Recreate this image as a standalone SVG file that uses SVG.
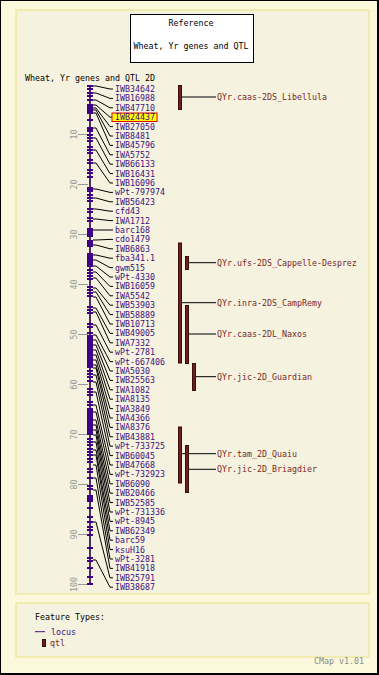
<svg xmlns="http://www.w3.org/2000/svg" width="379" height="675" viewBox="0 0 379 675">
<style>
text{font-family:"DejaVu Sans Mono","Liberation Mono",monospace;font-size:8.3px}
.t{fill:#000}
.l{fill:#3f0f80}
.q{fill:#7a2626}
.s{fill:#999}
.tk{fill:#400085}
.sc{stroke:#999;stroke-width:1}
.qb{fill:#6e1f1f;stroke:#3a0c0c;stroke-width:1}
.c{fill:none;stroke:#000;stroke-width:1}
</style>
<rect x="0" y="0" width="379" height="675" fill="#000"/>
<rect x="1" y="1" width="376" height="672" fill="#fbf8dc"/>
<rect x="16" y="10" width="353" height="584" fill="#f5f3df" stroke="#eee8a2" stroke-width="1.5"/>
<rect x="16" y="603" width="353" height="54" fill="#f5f3df" stroke="#eee8a2" stroke-width="1.5"/>

<g id="title">
<rect x="130.5" y="14.5" width="123" height="48" fill="#fff" stroke="#000"/>
<text class="t" x="191" y="25.7" text-anchor="middle">Reference</text>
<text class="t" x="191" y="49" text-anchor="middle">Wheat, Yr genes and QTL</text>
</g>
<text class="t" x="25" y="80.7">Wheat, Yr genes and QTL 2D</text>

<g id="scale">
<line class="sc" x1="78" y1="134.5" x2="88" y2="134.5"/><text class="s" transform="translate(76.5,134.5) rotate(-90)" text-anchor="middle">10</text>
<line class="sc" x1="78" y1="184.5" x2="88" y2="184.5"/><text class="s" transform="translate(76.5,184.5) rotate(-90)" text-anchor="middle">20</text>
<line class="sc" x1="78" y1="234.5" x2="88" y2="234.5"/><text class="s" transform="translate(76.5,234.5) rotate(-90)" text-anchor="middle">30</text>
<line class="sc" x1="78" y1="284.5" x2="88" y2="284.5"/><text class="s" transform="translate(76.5,284.5) rotate(-90)" text-anchor="middle">40</text>
<line class="sc" x1="78" y1="334.5" x2="88" y2="334.5"/><text class="s" transform="translate(76.5,334.5) rotate(-90)" text-anchor="middle">50</text>
<line class="sc" x1="78" y1="384.5" x2="88" y2="384.5"/><text class="s" transform="translate(76.5,384.5) rotate(-90)" text-anchor="middle">60</text>
<line class="sc" x1="78" y1="434.5" x2="88" y2="434.5"/><text class="s" transform="translate(76.5,434.5) rotate(-90)" text-anchor="middle">70</text>
<line class="sc" x1="78" y1="484.5" x2="88" y2="484.5"/><text class="s" transform="translate(76.5,484.5) rotate(-90)" text-anchor="middle">80</text>
<line class="sc" x1="78" y1="534.5" x2="88" y2="534.5"/><text class="s" transform="translate(76.5,534.5) rotate(-90)" text-anchor="middle">90</text>
<line class="sc" x1="78" y1="584.5" x2="88" y2="584.5"/><text class="s" transform="translate(76.5,584.5) rotate(-90)" text-anchor="middle">100</text>
</g>

<g id="chromosome">
<line x1="90" y1="85" x2="90" y2="585" stroke="#20003a" stroke-width="1.6"/>
<rect class="tk" x="87" y="104" width="6" height="10"/>
<rect class="tk" x="87" y="127" width="6" height="5"/>
<rect class="tk" x="87" y="187" width="6" height="5"/>
<rect class="tk" x="87" y="228" width="6" height="9"/>
<rect class="tk" x="87" y="240" width="6" height="7"/>
<rect class="tk" x="87" y="253" width="6" height="14"/>
<rect class="tk" x="87" y="335" width="6" height="33"/>
<rect class="tk" x="87" y="408" width="6" height="27"/>
<rect class="tk" x="87" y="495" width="6" height="7"/>
<g class="tk">
<rect x="87" y="85" width="6" height="2"/><rect x="87" y="88" width="6" height="2"/><rect x="87" y="92" width="6" height="2"/><rect x="87" y="95" width="6" height="2"/><rect x="87" y="99" width="6" height="2"/>
<rect x="87" y="119" width="6" height="2"/><rect x="87" y="134" width="6" height="2"/><rect x="87" y="137" width="6" height="2"/><rect x="87" y="140" width="6" height="2"/><rect x="87" y="146" width="6" height="2"/><rect x="87" y="149" width="6" height="2"/><rect x="87" y="152" width="6" height="2"/><rect x="87" y="159" width="6" height="2"/><rect x="87" y="162" width="6" height="2"/><rect x="87" y="169" width="6" height="2"/><rect x="87" y="172" width="6" height="2"/><rect x="87" y="176" width="6" height="2"/>
<rect x="87" y="194" width="6" height="2"/><rect x="87" y="197" width="6" height="2"/><rect x="87" y="200" width="6" height="2"/><rect x="87" y="208" width="6" height="2"/><rect x="87" y="211" width="6" height="2"/><rect x="87" y="217" width="6" height="2"/><rect x="87" y="220" width="6" height="2"/>
<rect x="87" y="269" width="6" height="2"/><rect x="87" y="272" width="6" height="2"/><rect x="87" y="275" width="6" height="2"/><rect x="87" y="278" width="6" height="2"/><rect x="87" y="286" width="6" height="2"/><rect x="87" y="289" width="6" height="2"/><rect x="87" y="292" width="6" height="2"/><rect x="87" y="295" width="6" height="2"/><rect x="87" y="306" width="6" height="2"/><rect x="87" y="309" width="6" height="2"/><rect x="87" y="312" width="6" height="2"/><rect x="87" y="323" width="6" height="2"/><rect x="87" y="326" width="6" height="2"/><rect x="87" y="332" width="6" height="2"/>
<rect x="87" y="370" width="6" height="2"/><rect x="87" y="373" width="6" height="2"/><rect x="87" y="376" width="6" height="2"/><rect x="87" y="380" width="6" height="2"/><rect x="87" y="388" width="6" height="2"/><rect x="87" y="391" width="6" height="2"/><rect x="87" y="394" width="6" height="2"/><rect x="87" y="401" width="6" height="2"/><rect x="87" y="404" width="6" height="2"/>
<rect x="87" y="438" width="6" height="2"/><rect x="87" y="441" width="6" height="2"/><rect x="87" y="444" width="6" height="2"/><rect x="87" y="448" width="6" height="2"/><rect x="87" y="451" width="6" height="2"/><rect x="87" y="454" width="6" height="2"/><rect x="87" y="458" width="6" height="2"/><rect x="87" y="461" width="6" height="2"/><rect x="87" y="468" width="6" height="2"/><rect x="87" y="471" width="6" height="2"/><rect x="87" y="477" width="6" height="2"/><rect x="87" y="485" width="6" height="2"/><rect x="87" y="488" width="6" height="2"/>
<rect x="87" y="507" width="6" height="2"/><rect x="87" y="516" width="6" height="2"/><rect x="87" y="521" width="6" height="2"/><rect x="87" y="526" width="6" height="2"/><rect x="87" y="529" width="6" height="2"/><rect x="87" y="534" width="6" height="2"/><rect x="87" y="547" width="6" height="2"/><rect x="87" y="557" width="6" height="2"/><rect x="87" y="560" width="6" height="2"/><rect x="87" y="567" width="6" height="2"/><rect x="87" y="576" width="6" height="2"/><rect x="87" y="583" width="6" height="2"/>
</g>
</g>

<g id="connectors" class="c">
<polyline points="93,86 96,86 110,89 113,89"/>
<polyline points="93,93 96,93 110,98.4 113,98.4"/>
<polyline points="93,100 96,100 110,107.8 113,107.8"/>
<polyline points="93,105 96,105 110,117.2 112,117.2"/>
<polyline points="93,108 96,108 110,126.6 113,126.6"/>
<polyline points="93,110 96,110 110,136 113,136"/>
<polyline points="93,113 96,113 110,145.4 113,145.4"/>
<polyline points="93,128 96,128 110,154.8 113,154.8"/>
<polyline points="93,138 96,138 110,164.2 113,164.2"/>
<polyline points="93,150 96,150 110,173.6 113,173.6"/>
<polyline points="93,163 96,163 110,183 113,183"/>
<polyline points="93,189 96,189 110,192.4 113,192.4"/>
<polyline points="93,198 96,198 110,201.8 113,201.8"/>
<polyline points="93,209 96,209 110,211.2 113,211.2"/>
<polyline points="93,219 96,219 110,220.6 113,220.6"/>
<polyline points="93,230 96,230 110,230 113,230"/>
<polyline points="93,240 96,240 110,239.4 113,239.4"/>
<polyline points="93,245 96,245 110,248.8 113,248.8"/>
<polyline points="93,255 96,255 110,258.2 113,258.2"/>
<polyline points="93,260 96,260 110,267.6 113,267.6"/>
<polyline points="93,266 96,266 110,277 113,277"/>
<polyline points="93,272 96,272 110,286.4 113,286.4"/>
<polyline points="93,278 96,278 110,295.8 113,295.8"/>
<polyline points="93,288 96,288 110,305.2 113,305.2"/>
<polyline points="93,292 96,292 110,314.6 113,314.6"/>
<polyline points="93,297 96,297 110,324 113,324"/>
<polyline points="93,308 96,308 110,333.4 113,333.4"/>
<polyline points="93,312 96,312 110,342.8 113,342.8"/>
<polyline points="93,325 96,325 110,352.2 113,352.2"/>
<polyline points="93,335 96,335 110,361.6 113,361.6"/>
<polyline points="93,340 96,340 110,371 113,371"/>
<polyline points="93,345 96,345 110,380.4 113,380.4"/>
<polyline points="93,350 96,350 110,389.8 113,389.8"/>
<polyline points="93,355 96,355 110,399.2 113,399.2"/>
<polyline points="93,360 96,360 110,408.6 113,408.6"/>
<polyline points="93,365 96,365 110,418 113,418"/>
<polyline points="93,368 96,368 110,427.4 113,427.4"/>
<polyline points="93,375 96,375 110,436.8 113,436.8"/>
<polyline points="93,382 96,382 110,446.2 113,446.2"/>
<polyline points="93,392 96,392 110,455.6 113,455.6"/>
<polyline points="93,405 96,405 110,465 113,465"/>
<polyline points="93,412 96,412 110,474.4 113,474.4"/>
<polyline points="93,420 96,420 110,483.8 113,483.8"/>
<polyline points="93,425 96,425 110,493.2 113,493.2"/>
<polyline points="93,430 96,430 110,502.6 113,502.6"/>
<polyline points="93,435 96,435 110,512 113,512"/>
<polyline points="93,442 96,442 110,521.4 113,521.4"/>
<polyline points="93,450 96,450 110,530.8 113,530.8"/>
<polyline points="93,455 96,455 110,540.2 113,540.2"/>
<polyline points="93,465 96,465 110,549.6 113,549.6"/>
<polyline points="93,478 96,478 110,559 113,559"/>
<polyline points="93,490 96,490 110,568.4 113,568.4"/>
<polyline points="93,522 96,522 110,577.8 113,577.8"/>
<polyline points="93,560 96,560 110,587.2 113,587.2"/>
<line x1="182" y1="97" x2="216" y2="97"/>
<line x1="189" y1="262.7" x2="216" y2="262.7"/>
<line x1="182" y1="302.7" x2="216" y2="302.7"/>
<line x1="189" y1="334" x2="216" y2="334"/>
<line x1="196" y1="376.7" x2="216" y2="376.7"/>
<line x1="182" y1="453.7" x2="216" y2="453.7"/>
<line x1="189" y1="469.3" x2="216" y2="469.3"/>
</g>

<g id="loci" class="l">
<g id="n-IWB34642"><text x="115" y="92">IWB34642</text></g>
<g id="n-IWB16988"><text x="115" y="101.4">IWB16988</text></g>
<g id="n-IWB47710"><text x="115" y="110.8">IWB47710</text></g>
<g id="n-IWB24437"><rect x="112" y="113" width="45" height="8.5" fill="#ffff00" stroke="#e00000" stroke-width="1"/><text x="115" y="120.2">IWB24437</text></g>
<g id="n-IWB27050"><text x="115" y="129.6">IWB27050</text></g>
<g id="n-IWB8481"><text x="115" y="139">IWB8481</text></g>
<g id="n-IWB45796"><text x="115" y="148.4">IWB45796</text></g>
<g id="n-IWA5752"><text x="115" y="157.8">IWA5752</text></g>
<g id="n-IWB66133"><text x="115" y="167.2">IWB66133</text></g>
<g id="n-IWB16431"><text x="115" y="176.6">IWB16431</text></g>
<g id="n-IWB16096"><text x="115" y="186">IWB16096</text></g>
<g id="n-wPt-797974"><text x="115" y="195.4">wPt-797974</text></g>
<g id="n-IWB56423"><text x="115" y="204.8">IWB56423</text></g>
<g id="n-cfd43"><text x="115" y="214.2">cfd43</text></g>
<g id="n-IWA1712"><text x="115" y="223.6">IWA1712</text></g>
<g id="n-barc168"><text x="115" y="233">barc168</text></g>
<g id="n-cdo1479"><text x="115" y="242.4">cdo1479</text></g>
<g id="n-IWB6863"><text x="115" y="251.8">IWB6863</text></g>
<g id="n-fba341.1"><text x="115" y="261.2">fba341.1</text></g>
<g id="n-gwm515"><text x="115" y="270.6">gwm515</text></g>
<g id="n-wPt-4330"><text x="115" y="280">wPt-4330</text></g>
<g id="n-IWB16059"><text x="115" y="289.4">IWB16059</text></g>
<g id="n-IWA5542"><text x="115" y="298.8">IWA5542</text></g>
<g id="n-IWB53903"><text x="115" y="308.2">IWB53903</text></g>
<g id="n-IWB58889"><text x="115" y="317.6">IWB58889</text></g>
<g id="n-IWB10713"><text x="115" y="327">IWB10713</text></g>
<g id="n-IWB49005"><text x="115" y="336.4">IWB49005</text></g>
<g id="n-IWA7332"><text x="115" y="345.8">IWA7332</text></g>
<g id="n-wPt-2781"><text x="115" y="355.2">wPt-2781</text></g>
<g id="n-wPt-667406"><text x="115" y="364.6">wPt-667406</text></g>
<g id="n-IWA5030"><text x="115" y="374">IWA5030</text></g>
<g id="n-IWB25563"><text x="115" y="383.4">IWB25563</text></g>
<g id="n-IWA1082"><text x="115" y="392.8">IWA1082</text></g>
<g id="n-IWA8135"><text x="115" y="402.2">IWA8135</text></g>
<g id="n-IWA3849"><text x="115" y="411.6">IWA3849</text></g>
<g id="n-IWA4366"><text x="115" y="421">IWA4366</text></g>
<g id="n-IWA8376"><text x="115" y="430.4">IWA8376</text></g>
<g id="n-IWB43881"><text x="115" y="439.8">IWB43881</text></g>
<g id="n-wPt-733725"><text x="115" y="449.2">wPt-733725</text></g>
<g id="n-IWB60045"><text x="115" y="458.6">IWB60045</text></g>
<g id="n-IWB47668"><text x="115" y="468">IWB47668</text></g>
<g id="n-wPt-732923"><text x="115" y="477.4">wPt-732923</text></g>
<g id="n-IWB6090"><text x="115" y="486.8">IWB6090</text></g>
<g id="n-IWB20466"><text x="115" y="496.2">IWB20466</text></g>
<g id="n-IWB52585"><text x="115" y="505.6">IWB52585</text></g>
<g id="n-wPt-731336"><text x="115" y="515">wPt-731336</text></g>
<g id="n-wPt-8945"><text x="115" y="524.4">wPt-8945</text></g>
<g id="n-IWB62349"><text x="115" y="533.8">IWB62349</text></g>
<g id="n-barc59"><text x="115" y="543.2">barc59</text></g>
<g id="n-ksuH16"><text x="115" y="552.6">ksuH16</text></g>
<g id="n-wPt-3281"><text x="115" y="562">wPt-3281</text></g>
<g id="n-IWB41918"><text x="115" y="571.4">IWB41918</text></g>
<g id="n-IWB25791"><text x="115" y="580.8">IWB25791</text></g>
<g id="n-IWB38687"><text x="115" y="590.2">IWB38687</text></g>
</g>

<g id="qtls">
<g id="q-Libellula"><rect class="qb" x="178.5" y="85.5" width="3" height="24"/><text class="q" x="217" y="100">QYr.caas-2DS_Libellula</text></g>
<g id="q-CampRemy"><rect class="qb" x="178.5" y="243" width="3" height="120"/><text class="q" x="217" y="305.7">QYr.inra-2DS_CampRemy</text></g>
<g id="q-Cappelle"><rect class="qb" x="185.5" y="256.5" width="3" height="13"/><text class="q" x="217" y="265.7">QYr.ufs-2DS_Cappelle-Desprez</text></g>
<g id="q-Naxos"><rect class="qb" x="185.5" y="305.5" width="3" height="58"/><text class="q" x="217" y="337">QYr.caas-2DL_Naxos</text></g>
<g id="q-Guardian"><rect class="qb" x="192.5" y="363.5" width="3" height="27"/><text class="q" x="217" y="379.7">QYr.jic-2D_Guardian</text></g>
<g id="q-Quaiu"><rect class="qb" x="178.5" y="427" width="3" height="56"/><text class="q" x="217" y="456.7">QYr.tam_2D_Quaiu</text></g>
<g id="q-Briagdier"><rect class="qb" x="185.5" y="445.5" width="3" height="47"/><text class="q" x="217" y="472.3">QYr.jic-2D_Briagdier</text></g>
</g>

<g id="legend">
<text class="t" x="35" y="620">Feature Types:</text>
<line x1="35" y1="631.7" x2="45" y2="631.7" stroke="#3f0f80" stroke-width="1"/>
<text class="l" x="51" y="634.7">locus</text>
<rect class="qb" x="42.5" y="639.5" width="3" height="7"/>
<text class="q" x="50" y="646.3">qtl</text>
</g>
<text x="314" y="664" fill="#8a8a8a">CMap v1.01</text>
</svg>
